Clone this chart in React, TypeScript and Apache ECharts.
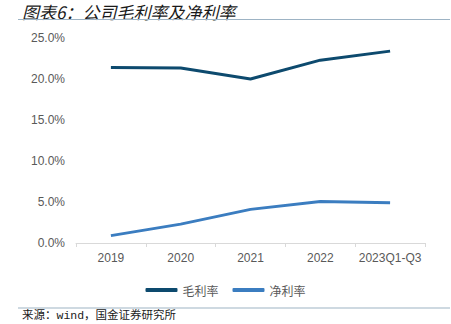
import React, { useEffect, useRef } from "react";
import * as echarts from "echarts";

const categories = ["2019", "2020", "2021", "2022", "2023Q1-Q3"];
const grossMargin = [21.4, 21.35, 20.0, 22.3, 23.4];
const netMargin = [0.9, 2.3, 4.1, 5.05, 4.9];
const yTicks = { min: 0, max: 25, interval: 5 };
const titleText = "图表6：公司毛利率及净利率";
const sourceText = "来源：wind，国金证券研究所";

export default function App() {
  const ref = useRef<HTMLDivElement>(null);
  useEffect(() => {
    if (!ref.current) return;
    const chart = echarts.init(ref.current, null, { renderer: "svg" });
    chart.setOption({
      animation: false,
      backgroundColor: "#ffffff",
      grid: { left: 76, right: 26, top: 38, bottom: 81, containLabel: false },
      graphic: [
        {
          type: "text",
          left: 22,
          top: 3,
          style: {
            text: titleText,
            fill: "#1a1a1a",
            font: "italic 17px 'Noto Sans CJK SC', sans-serif",
          },
        },
        {
          type: "line",
          shape: { x1: 18, y1: 19.5, x2: 450, y2: 19.5 },
          style: { stroke: "#9db3c4", lineWidth: 1.2 },
        },
        {
          type: "line",
          shape: { x1: 18, y1: 308, x2: 450, y2: 308 },
          style: { stroke: "#9db3c4", lineWidth: 1.2 },
        },
        {
          type: "text",
          left: 22,
          top: 310,
          style: {
            text: sourceText,
            fill: "#1a1a1a",
            font: "11.5px 'Liberation Mono', 'Noto Sans CJK SC', monospace",
          },
        },
      ],
      legend: {
        top: 279,
        left: "center",
        itemWidth: 32,
        itemHeight: 4,
        itemGap: 14,
        icon: "roundRect",
        textStyle: { color: "#595959", fontSize: 12, fontFamily: "'Noto Sans CJK SC', sans-serif" },
        data: ["毛利率", "净利率"],
      },
      xAxis: {
        type: "category",
        data: categories,
        boundaryGap: true,
        axisLine: { lineStyle: { color: "#d9d9d9", width: 1 } },
        axisTick: { show: true, length: 4, interval: 0, lineStyle: { color: "#d9d9d9" } },
        axisLabel: {
          interval: 0,
          color: "#595959",
          fontSize: 12,
          margin: 9,
          fontFamily: "Liberation Sans, Arial, sans-serif",
        },
      },
      yAxis: {
        type: "value",
        min: yTicks.min,
        max: yTicks.max,
        interval: yTicks.interval,
        splitLine: { show: false },
        axisLine: { show: false },
        axisTick: { show: false },
        axisLabel: {
          color: "#595959",
          fontSize: 12,
          margin: 11,
          fontFamily: "Liberation Sans, Arial, sans-serif",
          formatter: (v: number) => v.toFixed(1) + "%",
        },
      },
      series: [
        {
          name: "毛利率",
          type: "line",
          data: grossMargin,
          symbol: "none",
          lineStyle: { color: "#0d4a6e", width: 3 },
          itemStyle: { color: "#0d4a6e" },
        },
        {
          name: "净利率",
          type: "line",
          data: netMargin,
          symbol: "none",
          lineStyle: { color: "#3b7dc0", width: 3 },
          itemStyle: { color: "#3b7dc0" },
        },
      ],
    });
    return () => chart.dispose();
  }, []);
  return (
    <div
      ref={ref}
      style={{ position: "absolute", left: 0, top: 0, width: 451, height: 324, background: "#fff" }}
    />
  );
}
